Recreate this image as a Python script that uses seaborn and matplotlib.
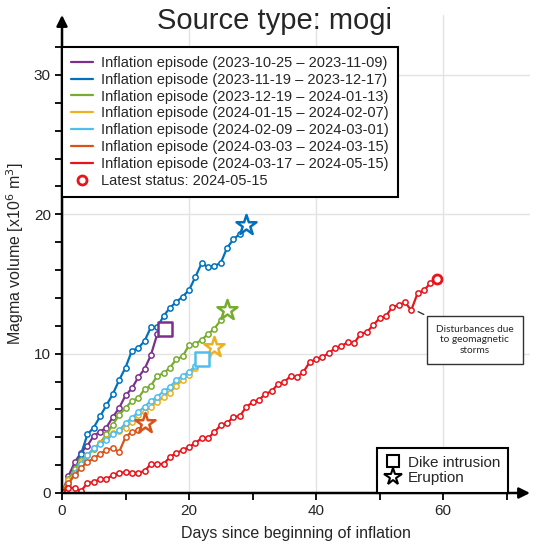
import matplotlib.pyplot as plt
import seaborn as sns
import pandas as pd
from matplotlib.lines import Line2D

# inflation episodes, one value per day since beginning of inflation
episodes = [
    "Inflation episode (2023-10-25 – 2023-11-09)",
    "Inflation episode (2023-11-19 – 2023-12-17)",
    "Inflation episode (2023-12-19 – 2024-01-13)",
    "Inflation episode (2024-01-15 – 2024-02-07)",
    "Inflation episode (2024-02-09 – 2024-03-01)",
    "Inflation episode (2024-03-03 – 2024-03-15)",
    "Inflation episode (2024-03-17 – 2024-05-15)",
]
colors = ["#7E2F8E", "#0072BD", "#77AC30", "#EDB120", "#4DBEEE", "#D95319", "#E8141B"]

vol_purple = [0, 1.2, 2.2, 2.9, 3.4, 4.1, 4.4, 4.7, 5.45, 6.1, 7.0, 7.5, 8.3, 8.9, 9.9, 11.4]
vol_blue = [0, 0.8, 1.6, 2.8, 4.2, 4.7, 5.5, 6.3, 7.1, 8.1, 9.0, 10.2, 10.4, 10.9, 11.9,
            11.9, 12.7, 13.3, 13.7, 14.1, 14.55, 15.5, 16.5, 16.2, 16.3, 16.5, 17.6, 18.2,
            18.6, 19.2]
vol_green = [0, 1.0, 1.7, 2.4, 2.7, 3.15, 3.6, 4.2, 4.9, 5.6, 6.1, 6.6, 6.8, 7.45, 7.7,
             8.4, 8.6, 9.0, 9.6, 9.8, 10.6, 10.7, 11.0, 11.4, 11.8, 12.4, 13.1]
vol_yellow = [0, 0.9, 1.4, 2.2, 2.7, 3.2, 3.6, 3.9, 4.3, 4.45, 4.7, 5.1, 5.6, 5.8, 6.2,
              6.5, 6.9, 7.2, 7.7, 8.1, 8.5, 8.96, 9.3, 9.9, 10.5]
vol_cyan = [0, 0.6, 1.4, 2.1, 2.7, 3.2, 3.5, 3.8, 4.2, 4.5, 5.0, 5.4, 5.8, 6.2, 6.6,
            6.9, 7.3, 7.6, 8.1, 8.4, 8.7, 9.1]
vol_orange = [0, 0.7, 1.3, 1.8, 2.2, 2.5, 2.8, 3.1, 3.2, 2.95, 4.0, 4.4, 4.5, 5.0]
vol_red = [0.1, 0.36, 0.36, 0.14, 0.72, 0.79, 1.0, 1.0, 1.29, 1.43, 1.5, 1.43, 1.43, 1.58,
           2.08, 2.08, 2.08, 2.58, 2.87, 3.08, 3.3, 3.58, 3.94, 3.94, 4.37, 4.87, 5.02,
           5.45, 5.52, 6.16, 6.52, 6.67, 7.1, 7.3, 7.8, 7.96, 8.39, 8.32, 8.67, 9.39, 9.6,
           9.75, 10.04, 10.39, 10.54, 10.82, 10.75, 11.4, 11.54, 12.04, 12.54, 12.69,
           13.33, 13.48, 13.69, 13.12, 14.34, 14.55, 15.05, 15.34]
volumes = [vol_purple, vol_blue, vol_green, vol_yellow, vol_cyan, vol_orange, vol_red]

# end of episode: 'dike' (square) or 'eruption' (star); None = ongoing
end_type = ["dike", "eruption", "eruption", "eruption", "dike", "eruption", None]
end_day = [16.2, 29, 26, 24, 22.1, 13, None]
end_vol = [11.8, 19.2, 13.1, 10.5, 9.6, 5.0, None]

rows = []
for name, vals in zip(episodes, volumes):
    for d, v in enumerate(vals):
        rows.append({"episode": name, "day": d, "volume": v})
df = pd.DataFrame(rows)

sns.set_theme(style="whitegrid")
plt.rcParams["font.family"] = ["Liberation Sans", "DejaVu Sans"]

fig = plt.figure(figsize=(5.4, 5.53), dpi=100)
ax = fig.add_axes([62 / 540, 60 / 553, 468 / 540, 478 / 553])

for name, c in zip(episodes, colors):
    sub = df[df["episode"] == name]
    sns.lineplot(data=sub, x="day", y="volume", ax=ax, color=c, lw=1.6,
                 marker="o", ms=3.8, mfc="white", mec=c, mew=1.1, label=name)

for c, t, d, v in zip(colors, end_type, end_day, end_vol):
    if t is None:
        continue
    m = "s" if t == "dike" else "*"
    s = 110 if t == "dike" else 230
    ax.scatter([d], [v], marker=m, s=s, facecolor="white", edgecolor=c,
               linewidth=1.8, zorder=5)

# latest status
ax.plot(len(vol_red) - 1, vol_red[-1], "o", ms=6.5, mfc="white", mec=colors[-1],
        mew=2, zorder=6, label="Latest status: 2024-05-15")

ax.annotate("Disturbances due\nto geomagnetic\nstorms", xy=(55.7, 13.1),
            xytext=(65.0, 11.0), ha="center", va="center", fontsize=7.3,
            family="Lato",
            bbox=dict(boxstyle="square,pad=0.9", fc="white", ec="#333333", lw=1),
            arrowprops=dict(arrowstyle="-", color="#333333", lw=1))

ax.set_xlim(0, 73.7)
ax.set_ylim(0, 34.3)
ax.set_xticks([0, 20, 40, 60])
ax.set_xticks([10, 30, 50, 70], minor=True)
ax.set_yticks([0, 10, 20, 30])
ax.set_yticks([v for v in range(2, 34, 2) if v % 10], minor=True)
ax.tick_params(which="both", direction="out", length=5, width=1.3, color="black",
               bottom=True, left=True, labelsize=11, pad=3)
ax.grid(which="major", color="#e3e3e3", lw=1)
ax.grid(which="minor", visible=False)
for sp in ax.spines.values():
    sp.set_visible(False)

ax.annotate("", xy=(0, 1), xytext=(0, 0), xycoords="axes fraction",
            arrowprops=dict(arrowstyle="-|>", color="black", lw=1.8, mutation_scale=16,
                            shrinkA=0, shrinkB=0))
ax.annotate("", xy=(1, 0), xytext=(0, 0), xycoords="axes fraction",
            arrowprops=dict(arrowstyle="-|>", color="black", lw=1.8, mutation_scale=16,
                            shrinkA=0, shrinkB=0))

ax.set_xlabel("Days since beginning of inflation", fontsize=11.5, labelpad=6)
ax.set_ylabel("Magma volume [x10$^6$ m$^3$]", fontsize=11.5, labelpad=6)

leg = ax.legend(loc="upper left", bbox_to_anchor=(0, (553 - 47 - 60) / 478),
                fontsize=10.5, frameon=True, fancybox=False, framealpha=1,
                edgecolor="black", borderaxespad=0, handlelength=1.5,
                handletextpad=0.6, labelspacing=0.2, borderpad=0.6)
leg.get_frame().set_linewidth(1.5)
for h in leg.legend_handles[:-1]:
    h.set_marker("")

# marker legend
h2 = [Line2D([], [], ls="", marker="s", ms=8, mfc="white", mec="black", mew=1.5),
      Line2D([], [], ls="", marker="*", ms=13, mfc="white", mec="black", mew=1.5)]
leg2 = ax.legend(h2, ["Dike intrusion", "Eruption"], loc="lower right",
                 bbox_to_anchor=((508 - 62) / 468, 0), fontsize=11, frameon=True,
                 fancybox=False, framealpha=1, edgecolor="black", borderaxespad=0,
                 handlelength=1.0, handletextpad=0.5, labelspacing=0.1, borderpad=0.5)
leg2.get_frame().set_linewidth(1.5)
ax.add_artist(leg)

fig.text(0.508, 0.962, "Source type: mogi", ha="center", va="center", fontsize=21)

fig.savefig("out.png", dpi=100)
